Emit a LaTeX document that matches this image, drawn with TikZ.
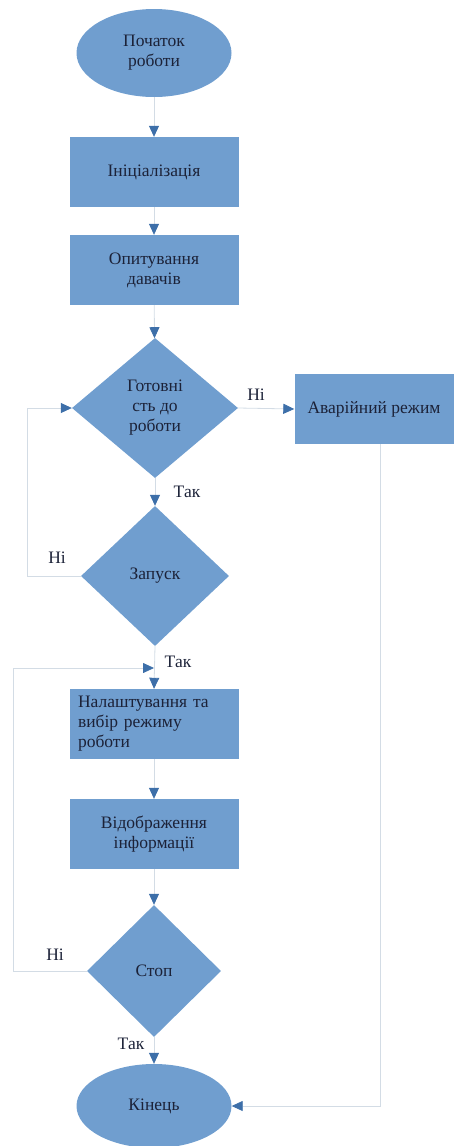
\documentclass[tikz,border=0pt]{standalone}
\usepackage{fontspec}
\setmainfont{Liberation Serif}
\usetikzlibrary{shapes.geometric,arrows.meta,calc}
\definecolor{boxfill}{HTML}{709ECF}
\definecolor{tipblue}{HTML}{3D6FA9}
\definecolor{linegray}{HTML}{D3DCE5}
\definecolor{txt}{HTML}{1C2238}
\tikzset{
  base/.style={fill=boxfill,draw=none,text=txt,font=\fontsize{17.5}{20}\selectfont,align=center,inner sep=0pt},
  procbox/.style={base,rectangle,minimum width=169pt,minimum height=70pt},
  termbox/.style={base,ellipse,minimum width=155pt,minimum height=88pt},
  decbox/.style={base,diamond},
  conn/.style={draw=linegray,line width=0.8pt,-{Triangle[width=10pt,length=11pt,color=tipblue]}},
  lbl/.style={text=txt,font=\fontsize{17.5}{20}\selectfont,inner sep=0pt}
}
\begin{document}
\begin{tikzpicture}[x=1pt,y=-1pt]
\useasboundingbox (0,0) rectangle (454,1146);
\node[termbox] (start) at (154,53) {Початок\\роботи};
\node[procbox] (init) at (154,172) {Ініціалізація};
\node[procbox] (poll) at (154,270) {Опитування\\давачів};
\node[decbox,minimum width=166pt,minimum height=140pt] (ready) at (155,408) {Готовні\\сть до\\роботи};
\node[procbox,minimum width=159pt] (emerg) at (374,409) {Аварійний режим};
\node[decbox,minimum width=148pt,minimum height=140pt] (launch) at (155,576) {Запуск};
\node[procbox,text width=152pt,align=left] (setup) at (154,724) {Налаштування та\\вибір режиму\\роботи};
\node[procbox] (disp) at (154,834) {Відображення\\інформації};
\node[decbox,minimum width=134pt,minimum height=132pt] (stop) at (154,971) {Стоп};
\node[termbox,minimum height=84pt] (end) at (154,1106) {Кінець};

\coordinate (loopA) at (27,0);
\coordinate (loopB) at (13,0);
\coordinate (merge) at (154,668);
\coordinate (eline) at (380,0);

\draw[conn] (start) -- (init);
\draw[conn] (init) -- (poll);
\draw[conn] (poll) -- (ready);
\draw[conn] (ready.east) -- (emerg.west);
\draw[conn] (ready.south) -- (launch.north);
\draw[conn] (launch.west) -- (launch.west -| loopA) |- (ready.west);
\draw[conn] (launch.south) -- (setup.north);
\draw[conn] (setup) -- (disp);
\draw[conn] (disp) -- (stop);
\draw[conn] (stop.south) -- (end.north);
\draw[conn] (stop.west) -- (stop.west -| loopB) |- (merge);
\draw[conn] (emerg.south -| eline) |- (end.east);

\node[lbl] (l1) at (256,395) {Ні};
\node[lbl] (l2) at (187,492) {Так};
\node[lbl] (l3) at (57,558) {Ні};
\node[lbl] (l4) at (178,662) {Так};
\node[lbl] (l5) at (55,955) {Ні};
\node[lbl] (l6) at (131,1044) {Так};
\end{tikzpicture}
\end{document}
